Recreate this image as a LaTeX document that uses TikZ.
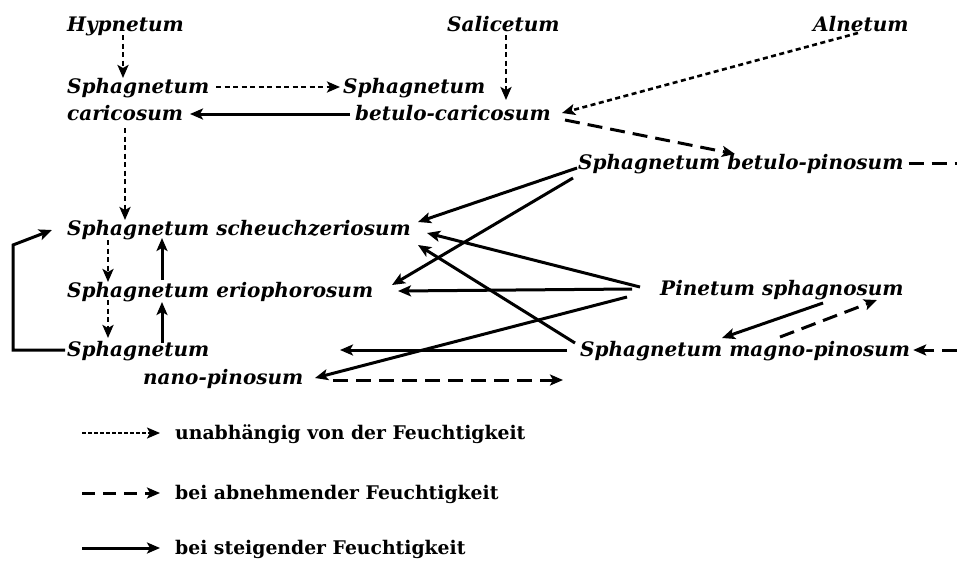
\documentclass[tikz,border=0pt]{standalone}
\usepackage{fontspec}
\setmainfont{DejaVu Serif}
\usetikzlibrary{arrows.meta,calc}
\begin{document}
\begin{tikzpicture}[x=1pt,y=-1pt,
  lbl/.style={anchor=base west,inner sep=0pt,font=\fontsize{20}{23}\selectfont\bfseries\itshape},
  leg/.style={anchor=base west,inner sep=0pt,font=\fontsize{18.8}{22}\selectfont\bfseries},
  tip/.style={-{Stealth[length=13pt,width=11pt,inset=3pt]}},
  ind/.style={tip,line width=2.6pt,dash pattern=on 5pt off 3.5pt},
  dec/.style={tip,line width=3pt,dash pattern=on 15pt off 8pt},
  inc/.style={tip,line width=3pt},
]
\useasboundingbox (0,0) rectangle (957,563);
% nodes
\node[lbl] (hyp) at (67,31) {Hypnetum};
\node[lbl] (sal) at (447,31) {Salicetum};
\node[lbl] (aln) at (813,31) {Alnetum};
\node[lbl] (sc1) at (67,93) {Sphagnetum};
\node[lbl] (sc2) at (67,120) {caricosum};
\node[lbl] (bc1) at (343,93) {Sphagnetum};
\node[lbl] (bc2) at (355,120) {betulo-caricosum};
\node[lbl] (bp) at (578,169) {Sphagnetum betulo-pinosum};
\node[lbl] (sch) at (67,235) {Sphagnetum scheuchzeriosum};
\node[lbl] (eri) at (67,297) {Sphagnetum eriophorosum};
\node[lbl] (nn1) at (67,356) {Sphagnetum};
\node[lbl] (nn2) at (143,384) {nano-pinosum};
\node[lbl] (pin) at (660,295) {Pinetum sphagnosum};
\node[lbl] (mp) at (580,356) {Sphagnetum magno-pinosum};
\node[leg] (lg1) at (175,439) {unabhängig von der Feuchtigkeit};
\node[leg] (lg2) at (175,499) {bei abnehmender Feuchtigkeit};
\node[leg] (lg3) at (175,554) {bei steigender Feuchtigkeit};
% free ends
\coordinate (e1) at (563,380);
\coordinate (e2) at (957,163);
\coordinate (e3) at (957,350);
\coordinate (lo1) at (13,350);
\coordinate (lo2) at (13,245);
\coordinate (l1) at (82,433);
\coordinate (l2) at (82,493);
\coordinate (l3) at (82,548);
% independent of moisture
\draw[ind] ([shift={(56,4)}]hyp.base west) -- ([shift={(56,-15)}]sc1.base west);
\draw[ind] ([shift={(149,-6)}]sc1.base west) -- ([shift={(-3,-6)}]bc1.base west);
\draw[ind] ([shift={(59,4)}]sal.base west) -- ([shift={(151,-20)}]bc2.base west);
\draw[ind] ([shift={(45,2)}]aln.base west) -- ([shift={(207,-7)}]bc2.base west);
\draw[ind] ([shift={(58,8)}]sc2.base west) -- ([shift={(58,-15)}]sch.base west);
\draw[ind] ([shift={(41,5)}]sch.base west) -- ([shift={(41,-15)}]eri.base west);
\draw[ind] ([shift={(41,3)}]eri.base west) -- ([shift={(41,-18)}]nn1.base west);
% decreasing moisture
\draw[dec] ([shift={(210,0)}]bc2.base west) -- ([shift={(157,-15)}]bp.base west);
\draw[dec] ([shift={(190,-4)}]nn2.base west) -- (e1);
\draw[dec] ([shift={(200,-19)}]mp.base west) -- ([shift={(217,5)}]pin.base west);
\draw[dec,-] ([shift={(5,-6)}]bp.base east) -- (e2);
\draw[dec] (e3) -- ([shift={(3,-6)}]mp.base east);
% increasing moisture
\draw[inc] ([shift={(-5,-6)}]bc2.base west) -- ([shift={(123,-6)}]sc2.base west);
\draw[inc] ([shift={(-1,-1)}]bp.base west) -- ([shift={(351,-13)}]sch.base west);
\draw[inc] ([shift={(-5,9)}]bp.base west) -- ([shift={(325,-12)}]eri.base west);
\draw[inc] ([shift={(-20,-8)}]pin.base west) -- ([shift={(360,-2)}]sch.base west);
\draw[inc] ([shift={(-5,-13)}]mp.base west) -- ([shift={(351,10)}]sch.base west);
\draw[inc] ([shift={(-28,-6)}]pin.base west) -- ([shift={(331,-6)}]eri.base west);
\draw[inc] ([shift={(-33,2)}]pin.base west) -- ([shift={(172,-6)}]nn2.base west);
\draw[inc] ([shift={(-13,-6)}]mp.base west) -- ([shift={(273,-6)}]nn1.base west);
\draw[inc] ([shift={(163,8)}]pin.base west) -- ([shift={(142,-18)}]mp.base west);
\draw[inc] ([shift={(-2,-6)}]nn1.base west) -- (lo1) -- (lo2) -- ([shift={(-15,-5)}]sch.base west);
\draw[inc] ([shift={(95,-17)}]eri.base west) -- ([shift={(95,3)}]sch.base west);
\draw[inc] ([shift={(95,-13)}]nn1.base west) -- ([shift={(95,5)}]eri.base west);
% legend
\draw[tip,line width=1.8pt,dash pattern=on 3.5pt off 2.5pt] (l1) -- ([shift={(-15,-6)}]lg1.base west);
\draw[dec,dash pattern=on 13pt off 8pt] (l2) -- ([shift={(-15,-6)}]lg2.base west);
\draw[inc] (l3) -- ([shift={(-15,-6)}]lg3.base west);
\end{tikzpicture}
\end{document}
